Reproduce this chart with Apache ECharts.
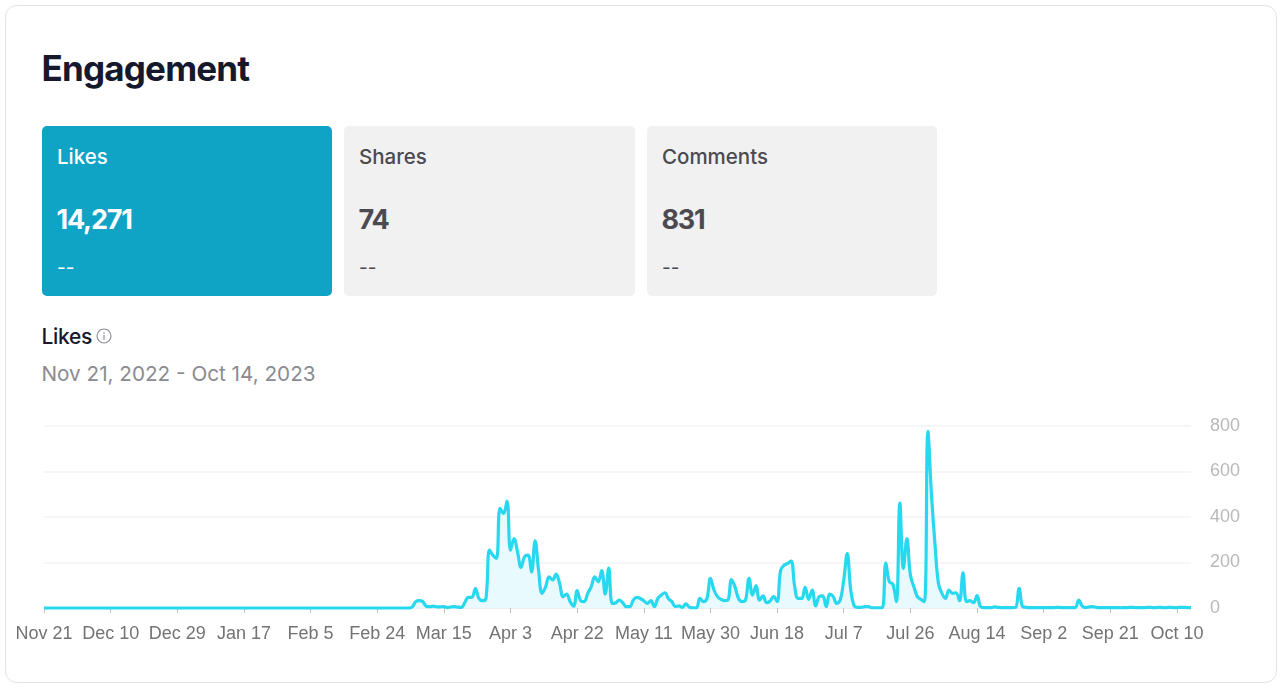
<!DOCTYPE html>
<html>
<head>
<meta charset="utf-8">
<script src="https://cdn.jsdelivr.net/npm/echarts@6/dist/echarts.min.js"></script>
<style>
html,body{margin:0;padding:0;background:#fff;width:1282px;height:688px;overflow:hidden;font-family:Inter,"Noto Sans",sans-serif}
.abs{position:absolute;white-space:nowrap;line-height:1}
#frame{position:absolute;left:5px;top:5px;width:1270px;height:676px;border:1px solid #e3e3e5;border-radius:12px;box-sizing:content-box}
.card{position:absolute;top:126px;height:170px;width:290px;border-radius:5px;background:#f1f1f2;color:#4a4a50}
.card.on{background:#0fa3c6;color:#fff}
.card div{position:absolute;white-space:nowrap;line-height:1}
.n{left:15px;top:21px;font-size:20.5px;font-weight:500}
.v{left:14.5px;top:80px;font-size:27px;font-weight:700;letter-spacing:-1.2px}
.d{left:15px;top:132px;font-size:19px}
#main{position:absolute;left:0;top:400px;width:1282px;height:288px;filter:blur(.35px)}
</style>
</head>
<body>
<div id="frame"></div>
<div class="abs" style="left:41.5px;top:50.5px;font-size:35px;font-weight:700;color:#16182b;letter-spacing:-.8px">Engagement</div>
<div class="card on" style="left:42px"><div class="n">Likes</div><div class="v">14,271</div><div class="d">--</div></div>
<div class="card" style="left:344px;width:291px"><div class="n">Shares</div><div class="v">74</div><div class="d">--</div></div>
<div class="card" style="left:647px"><div class="n">Comments</div><div class="v">831</div><div class="d">--</div></div>
<div class="abs" style="left:41.5px;top:325.5px;font-size:21px;font-weight:500;color:#16182b;letter-spacing:-.3px">Likes</div>
<svg class="abs" style="left:96px;top:328px" width="16" height="16" viewBox="0 0 16 16"><circle cx="8" cy="8" r="7" fill="none" stroke="#8a8b91" stroke-width="1.1"/><rect x="7.4" y="7" width="1.2" height="4.8" fill="#8a8b91"/><rect x="7.4" y="4.4" width="1.2" height="1.4" fill="#8a8b91"/></svg>
<div class="abs" style="left:41.5px;top:363.5px;font-size:20.7px;color:#8a8b91">Nov 21, 2022 - Oct 14, 2023</div>
<div id="main"></div>
<script>
const startDate = Date.UTC(2022, 10, 21);
const dayCount = 328;
const monthNames = ['Jan','Feb','Mar','Apr','May','Jun','Jul','Aug','Sep','Oct','Nov','Dec'];
const yTicks = [0, 200, 400, 600, 800];
const likes = [
0,0,0,0,0,0,0,0,0,0,0,0,0,0,0,0,0,0,0,0,
0,0,0,0,0,0,0,0,0,0,0,0,0,0,0,0,0,0,0,0,
0,0,0,0,0,0,0,0,0,0,0,0,0,0,0,0,0,0,0,0,
0,0,0,0,0,0,0,0,0,0,0,0,0,0,0,0,0,0,0,0,
0,0,0,0,0,0,0,0,0,0,0,0,0,0,0,0,0,0,0,0,
0,0,0,0,0,
5,28,32,28,8,6,8,5,5,6,2,5,6,4,3,25,47,47,85,42,
32,42,254,232,218,438,416,470,254,305,247,178,225,232,158,295,166,64,93,137,
123,149,108,50,61,28,8,76,32,28,64,93,137,115,164,61,175,20,23,35,
23,6,6,35,47,42,32,20,32,6,42,57,67,42,28,6,9,3,18,3,
1,1,42,28,42,130,79,50,38,32,35,125,93,42,28,35,130,57,98,35,
53,23,31,50,28,166,188,196,206,96,42,42,91,38,79,9,50,53,6,61,
50,20,35,123,239,79,9,3,3,6,6,1,1,1,1,199,115,105,28,461,
174,305,145,93,50,38,28,777,502,283,108,64,42,79,64,67,32,155,28,32,
23,54,6,2,2,2,5,3,2,2,2,2,3,86,6,3,2,2,2,2,
2,2,2,2,3,2,2,2,2,2,35,8,2,5,6,3,2,2,2,2,
2,2,1,2,2,3,2,2,2,2,3,2,2,3,2,2,3,2,2,3,
3,2,2
];
const categories = [];
for (let i = 0; i < dayCount; i++) {
  const d = new Date(startDate + i * 86400000);
  categories.push(monthNames[d.getUTCMonth()] + ' ' + d.getUTCDate());
}
const chart = echarts.init(document.getElementById('main'), null, {renderer: 'canvas'});
chart.setOption({
  animation: false,
  grid: {left: 44, right: 91, top: 26, height: 182, containLabel: false},
  xAxis: {
    type: 'category', data: categories, boundaryGap: false,
    axisLine: {show: true, lineStyle: {color: '#ededf0', width: 1}},
    axisTick: {show: true, alignWithLabel: true, interval: 18, length: 5, lineStyle: {color: '#c0c0c0'}},
    axisLabel: {interval: 18, color: '#737373', fontSize: 18, fontFamily: 'Liberation Sans', margin: 17.5, hideOverlap: false},
    splitLine: {show: false}
  },
  yAxis: {
    type: 'value', position: 'right', min: yTicks[0], max: yTicks[yTicks.length - 1], interval: 200,
    axisLine: {show: false}, axisTick: {show: false},
    axisLabel: {color: '#b9b9b9', fontSize: 18, fontFamily: 'Liberation Sans', margin: 19, padding: [0, 0, 8, 0]},
    splitLine: {show: true, lineStyle: {color: '#f3f2f7', width: 1.5}}
  },
  series: [{
    type: 'line', data: likes, smooth: 0.4, showSymbol: false, symbol: 'none', clip: false,
    lineStyle: {color: '#27d8ef', width: 3.2},
    areaStyle: {color: '#e8fafd', opacity: 1},
    z: 3
  }]
});
</script>
</body>
</html>
